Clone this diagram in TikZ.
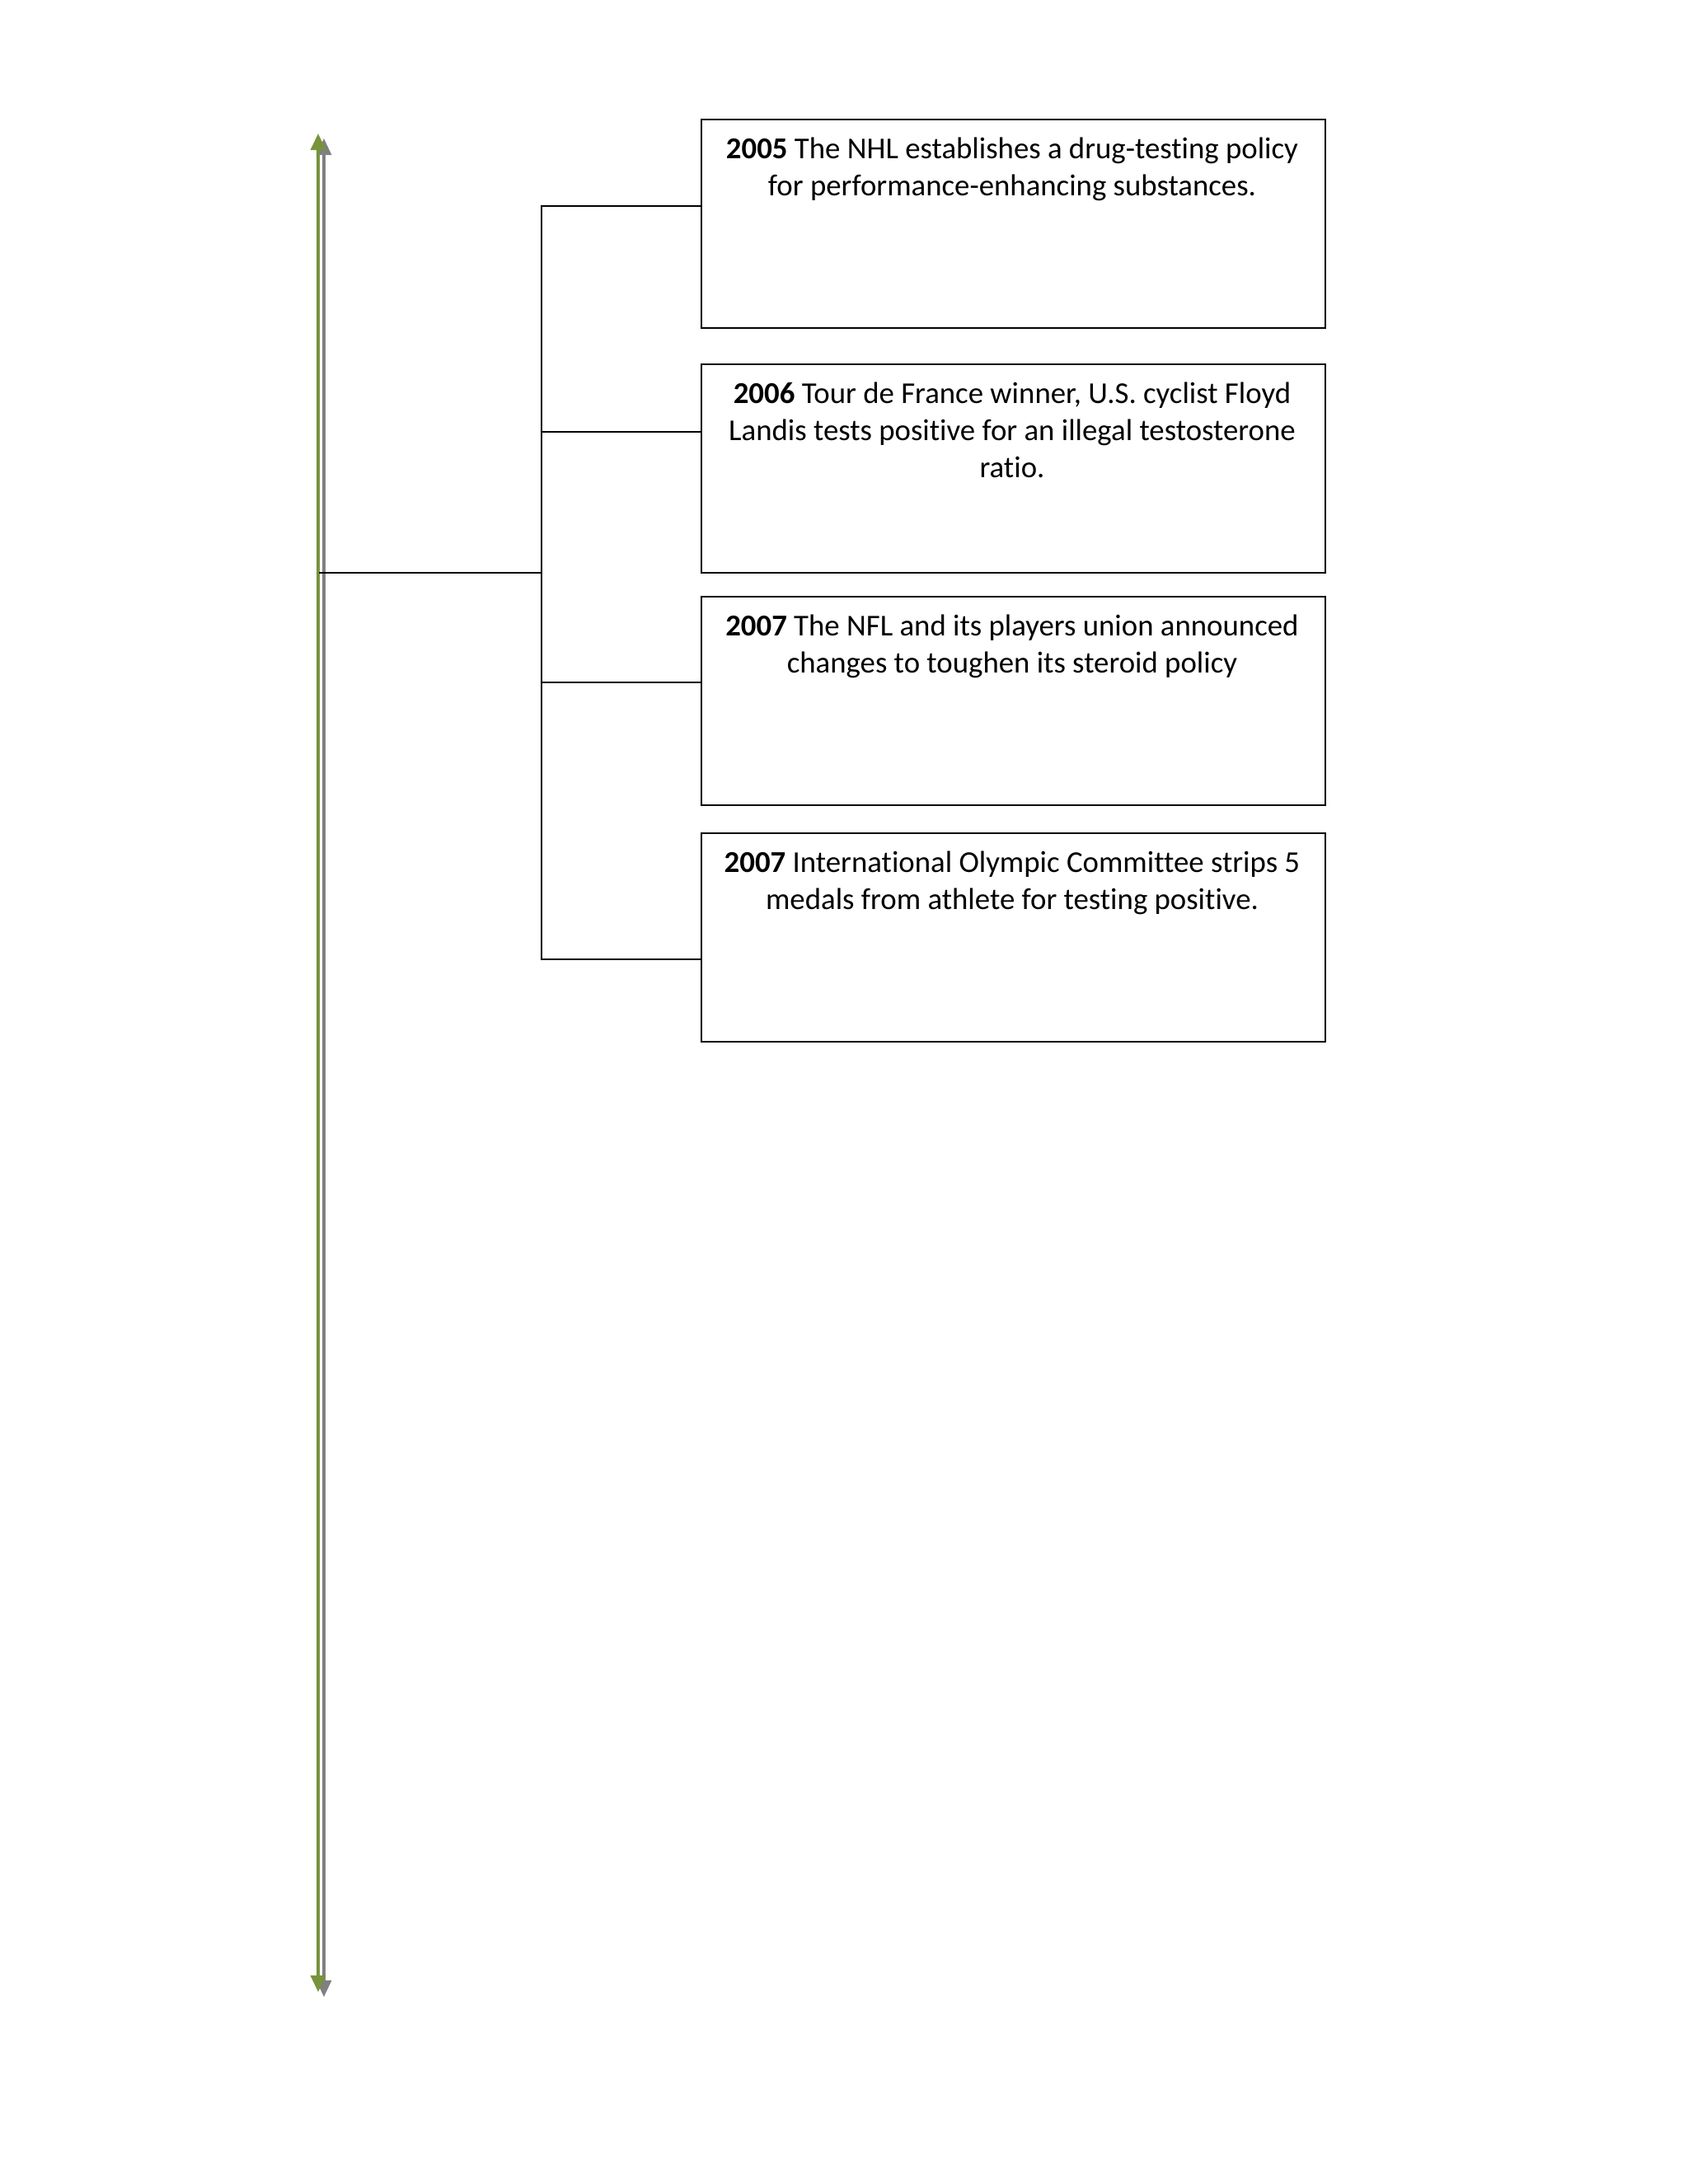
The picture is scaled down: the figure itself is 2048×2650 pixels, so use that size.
\documentclass[tikz,border=0pt]{standalone}
\usepackage{fontspec}
\setmainfont{Carlito}[Ligatures=NoCommon]
\usetikzlibrary{arrows.meta}
\definecolor{olivegreen}{HTML}{77933C}
\definecolor{shadowgray}{HTML}{808080}
\begin{document}
\begin{tikzpicture}[x=0.29883pt,y=-0.29883pt,
  eventbox/.style={draw=black,line width=0.7pt,minimum width=757*0.29883pt,minimum height=253*0.29883pt,inner sep=0pt,anchor=north west},
  eventtext/.style={anchor=base,align=center,font=\fontsize{11pt}{13.4pt}\selectfont,inner sep=0pt},
  link/.style={draw=black,line width=0.6pt},
  timeline/.style={line width=1pt,{Triangle[width=5.4pt,length=6pt]}-{Triangle[width=5.4pt,length=6pt]}}]
\useasboundingbox (0,0) rectangle (2048,2650);
% timeline arrow with shadow
\coordinate (st) at (393,168);
\coordinate (sb) at (393,2423);
\coordinate (gt) at (386,162);
\coordinate (gb) at (386,2417);
\draw[timeline,draw=shadowgray,fill=shadowgray,line width=0.9pt] (st) -- (sb);
\draw[timeline,draw=olivegreen,fill=olivegreen] (gt) -- (gb);
% boxes
\node[eventbox] (b1) at (850,144) {};
\node[eventbox] (b2) at (850,441) {};
\node[eventbox] (b3) at (850,723) {};
\node[eventbox] (b4) at (850,1010) {};
\node[eventtext] (t1) at (1228,237.8) {\textbf{2005} The NHL establishes a drug-testing policy\\for performance-enhancing substances.};
\node[eventtext] (t2) at (1228,579.6) {\textbf{2006} Tour de France winner, U.S. cyclist Floyd\\Landis tests positive for an illegal testosterone\\ratio.};
\node[eventtext] (t3) at (1228,816.8) {\textbf{2007} The NFL and its players union announced\\changes to toughen its steroid policy};
\node[eventtext] (t4) at (1228,1103.8) {\textbf{2007} International Olympic Committee strips 5\\medals from athlete for testing positive.};
% connectors
\coordinate (sp) at (387,695);
\coordinate (h) at (657,695);
\coordinate (k1) at (850,250);
\coordinate (k2) at (850,524);
\coordinate (k3) at (850,828);
\coordinate (k4) at (850,1164);
\draw[link] (sp) -- (h);
\draw[link] (k1) -| (h);
\draw[link] (k2) -| (h);
\draw[link] (k3) -| (h);
\draw[link] (k4) -| (h);
\end{tikzpicture}
\end{document}
